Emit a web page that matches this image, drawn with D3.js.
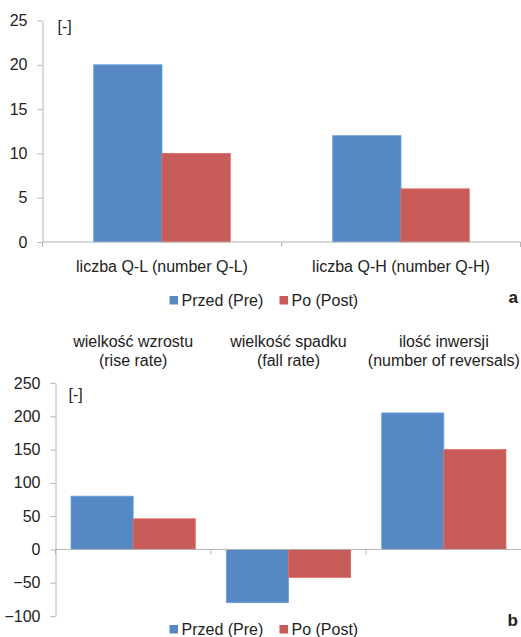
<!DOCTYPE html>
<html>
<head>
<meta charset="utf-8">
<script src="https://cdn.jsdelivr.net/npm/d3@7"></script>
<style>
  html, body { margin: 0; padding: 0; background: #fff; }
  svg { display: block; font-family: "Liberation Sans", Arial, sans-serif; }
  text { fill: #222; }
</style>
</head>
<body>
<svg id="chart" width="521" height="637"></svg>
<script>
// Series shared by both panels
const seriesNames = ["Przed (Pre)", "Po (Post)"];
const seriesColors = ["#5689C4", "#C75B58"];

// Panel a: counts of Q-L and Q-H
const categoriesA = ["liczba Q-L (number Q-L)", "liczba Q-H (number Q-H)"];
const preA = [20, 12];
const postA = [10, 6];
const ticksA = [0, 5, 10, 15, 20, 25];

// Panel b: rise rate, fall rate, number of reversals
const categoriesB = [
  ["wielkość wzrostu", "(rise rate)"],
  ["wielkość spadku", "(fall rate)"],
  ["ilość inwersji", "(number of reversals)"]
];
const preB = [80, -80, 205];
const postB = [46, -42, 150];
const ticksB = [-100, -50, 0, 50, 100, 150, 200, 250];

const svg = d3.select("#chart");
const axisColor = "#b4b4b4";
const fontSize = 16;

function panel(opts) {
  const g = svg.append("g");
  const y = d3.scaleLinear().domain(opts.yDomain).range(opts.yRange);
  const x0 = d3.scaleBand().domain(d3.range(opts.n)).range(opts.xRange).padding(0);
  const x1 = d3.scaleBand().domain(d3.range(seriesNames.length))
    .range([0, x0.bandwidth()]).paddingInner(0).paddingOuter(opts.outer);

  // bars
  const rows = d3.range(opts.n).map(i => [opts.pre[i], opts.post[i]]);
  const groups = g.selectAll("g.grp").data(rows).join("g")
    .attr("class", "grp")
    .attr("transform", (d, i) => `translate(${x0(i)},0)`);
  groups.selectAll("rect").data(d => d).join("rect")
    .attr("x", (d, j) => x1(j))
    .attr("width", x1.bandwidth())
    .attr("y", d => y(Math.max(0, d)))
    .attr("height", d => Math.abs(y(d) - y(0)))
    .attr("fill", (d, j) => seriesColors[j])
    .attr("stroke", (d, j) => d3.color(seriesColors[j]).brighter(0.4))
    .attr("stroke-width", 0.8);

  // value axis
  const yAxis = g.append("g")
    .attr("transform", `translate(${opts.xRange[0]},0)`)
    .call(d3.axisLeft(y).tickValues(opts.ticks).tickSize(5).tickSizeOuter(0).tickPadding(10));
  yAxis.select(".domain").attr("stroke", axisColor);
  yAxis.selectAll(".tick line").attr("stroke", axisColor);
  yAxis.selectAll(".tick text").attr("font-size", fontSize).attr("fill", "#222")
    .attr("font-family", "Liberation Sans, Arial, sans-serif");

  // category axis at zero
  const y0 = y(0);
  g.append("line")
    .attr("x1", opts.xRange[0]).attr("x2", opts.xRange[1])
    .attr("y1", y0).attr("y2", y0)
    .attr("stroke", axisColor);
  const bounds = d3.range(opts.n + 1).map(i => i < opts.n ? x0(i) : opts.xRange[1]);
  g.selectAll("line.ctick").data(bounds).join("line")
    .attr("class", "ctick")
    .attr("x1", d => d).attr("x2", d => d)
    .attr("y1", y0).attr("y2", y0 + 5)
    .attr("stroke", axisColor);

  // unit label
  g.append("text")
    .attr("x", opts.xRange[0] + opts.unitDx)
    .attr("y", y(opts.yDomain[1]) + opts.unitDy)
    .attr("font-size", fontSize)
    .text("[-]");

  return { g, x0, y };
}

// ---- Panel a ----
const pa = panel({
  n: categoriesA.length, pre: preA, post: postA, ticks: ticksA,
  yDomain: [0, 25], yRange: [242, 20.5], xRange: [42.5, 520.5],
  outer: 0.75, unitDx: 15, unitDy: 11
});
pa.g.selectAll("text.cat").data(categoriesA).join("text")
  .attr("class", "cat")
  .attr("x", (d, i) => pa.x0(i) + pa.x0.bandwidth() / 2)
  .attr("y", 272)
  .attr("text-anchor", "middle")
  .attr("font-size", fontSize)
  .text(d => d);

// ---- Panel b ----
const pb = panel({
  n: categoriesB.length, pre: preB, post: postB, ticks: ticksB,
  yDomain: [-100, 250], yRange: [616, 383], xRange: [55.5, 521.5],
  outer: 0.25, unitDx: 13, unitDy: 17
});
const topLabels = pb.g.selectAll("text.cat").data(categoriesB).join("text")
  .attr("class", "cat")
  .attr("text-anchor", "middle")
  .attr("font-size", fontSize);
topLabels.selectAll("tspan").data((d, i) => d.map(t => ({ t, i }))).join("tspan")
  .attr("x", d => pb.x0(d.i) + pb.x0.bandwidth() / 2)
  .attr("y", (d, k) => 347 + k * 18.5)
  .text(d => d.t);

// ---- Legends and panel letters ----
function legend(yCenter, letter, letterY) {
  const lg = svg.append("g");
  const xs = [169.5, 279.5];
  const items = lg.selectAll("g").data(seriesNames).join("g")
    .attr("transform", (d, i) => `translate(${xs[i]},${yCenter})`);
  items.append("rect")
    .attr("x", 0).attr("y", -4.5).attr("width", 8.5).attr("height", 8.5)
    .attr("fill", (d, i) => seriesColors[i]);
  items.append("text")
    .attr("x", 12).attr("y", 5.5)
    .attr("font-size", fontSize)
    .text(d => d);
  svg.append("text")
    .attr("x", 518).attr("y", letterY)
    .attr("text-anchor", "end")
    .attr("font-size", 17)
    .attr("font-weight", "bold")
    .text(letter);
}
legend(300.5, "a", 302.5);
legend(629.5, "b", 626);
</script>
</body>
</html>
